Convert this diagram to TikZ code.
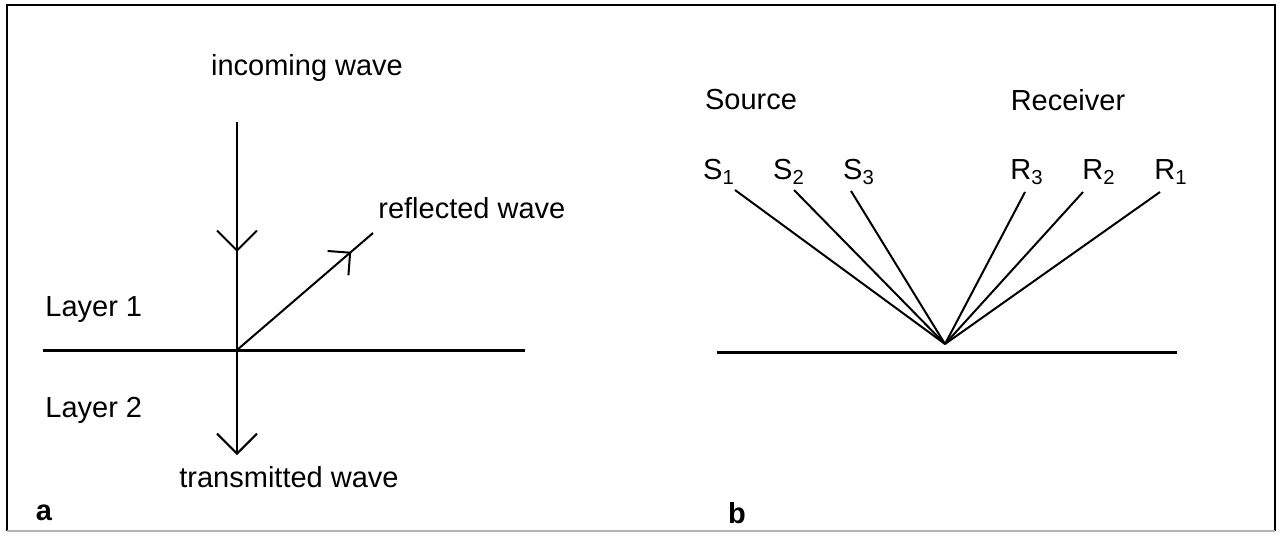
\documentclass[tikz,border=0pt]{standalone}
\usepackage{fontspec}
\setmainfont{Liberation Sans}
\usetikzlibrary{arrows.meta,decorations.markings}
\begin{document}
\begin{tikzpicture}[x=0.5pt,y=-0.5pt,
  lbl/.style={inner sep=0pt, font=\fontsize{14.5}{17}\selectfont},
  tag/.style={inner sep=0pt, font=\fontsize{14.5}{17}\selectfont\bfseries},
  ray/.style={line width=1pt},
  surface/.style={line width=1.5pt},
  frameline/.style={line width=1.3pt},
  barbtip/.style={-{Straight Barb[length=10pt,width=20pt]}},
  midarrow/.style={postaction={decorate}, decoration={markings, mark=at position #1 with {\arrow{Straight Barb[length=10pt,width=20pt]}}}},
  smallmidarrow/.style={postaction={decorate}, decoration={markings, mark=at position #1 with {\arrow{Straight Barb[length=8pt,width=16pt]}}}},
]
\useasboundingbox (0,0) rectangle (1279,535);
% frame
\coordinate (f1) at (7,531);
\coordinate (f2) at (7,5);
\coordinate (f3) at (1275,5);
\coordinate (f4) at (1275,531);
\draw[frameline] (f1) -- (f2) -- (f3) -- (f4);
\draw[line width=0.6pt, black!30] (f1) -- (f4);

% ---------- panel a ----------
\coordinate (top) at (237,122);
\coordinate (O) at (237,350);
\coordinate (bot) at (237,455);
\coordinate (refl) at (373,233);
\coordinate (aL) at (43,350);
\coordinate (aR) at (525,350);
\draw[surface] (aL) -- (aR);
\draw[ray, midarrow=0.57] (top) -- (O);
\draw[ray, barbtip] (O) -- (bot);
\draw[ray, smallmidarrow=0.84] (O) -- (refl);

\node[lbl] (inc) at (307,68) {incoming wave};
\node[lbl, anchor=west] (rw) at (378,208) {reflected wave};
\node[lbl, anchor=west] (l1) at (45,310) {Layer 1};
\node[lbl, anchor=west] (l2) at (45,410) {Layer 2};
\node[lbl] (tw) at (289,477) {transmitted wave};
\node[tag] (ta) at (44,513) {a};

% ---------- panel b ----------
\coordinate (P) at (945,344);
\coordinate (bL) at (717,352);
\coordinate (bR) at (1177,352);
\draw[surface] (bL) -- (bR);
\coordinate (s1e) at (735,190);
\coordinate (s2e) at (794,190);
\coordinate (s3e) at (851,191);
\coordinate (r3e) at (1025,192);
\coordinate (r2e) at (1083,192);
\coordinate (r1e) at (1160,192);
\foreach \c in {s1e,s2e,s3e,r3e,r2e,r1e} \draw[ray] (\c) -- (P);

\node[lbl] (src) at (751,100) {Source};
\node[lbl] (rcv) at (1068,100) {Receiver};
\node[lbl] (S1) at (719,172) {S\textsubscript{1}};
\node[lbl] (S2) at (789,172) {S\textsubscript{2}};
\node[lbl] (S3) at (859,172) {S\textsubscript{3}};
\node[lbl] (R3) at (1027,172) {R\textsubscript{3}};
\node[lbl] (R2) at (1099,172) {R\textsubscript{2}};
\node[lbl] (R1) at (1171,172) {R\textsubscript{1}};
\node[tag] (tb) at (737,513) {b};
\end{tikzpicture}
\end{document}
